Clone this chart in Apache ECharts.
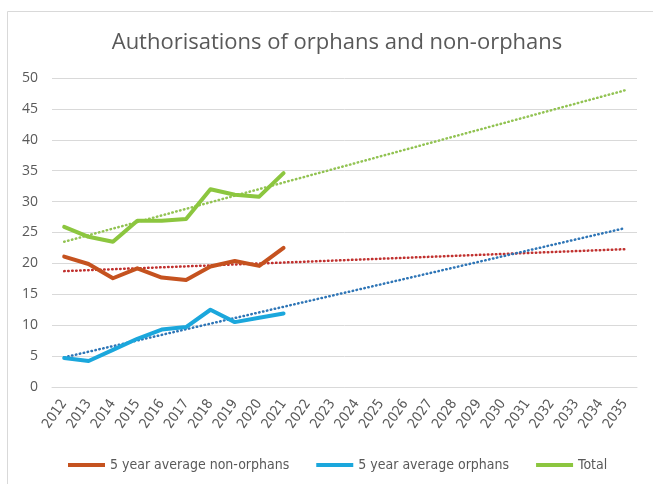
<!DOCTYPE html>
<html><head><meta charset="utf-8">
<script src="https://cdn.jsdelivr.net/npm/echarts@6/dist/echarts.min.js"></script>
<style>html,body{margin:0;padding:0;background:#fff}#c{width:653px;height:484px}</style>
</head><body><div id="c"></div>
<script>
const years = ['2012','2013','2014','2015','2016','2017','2018','2019','2020','2021','2022','2023','2024','2025','2026','2027','2028','2029','2030','2031','2032','2033','2034','2035'];
const nonOrphans = [21.1, 19.9, 17.6, 19.2, 17.7, 17.3, 19.5, 20.4, 19.6, 22.5];
const orphans = [4.7, 4.2, 6.0, 7.8, 9.3, 9.7, 12.5, 10.5, 11.2, 11.9];
const total = [25.9, 24.3, 23.5, 26.9, 26.9, 27.2, 32.0, 31.1, 30.8, 34.6];
// trend line end points at 2012 and 2035
const trendNonOrphans = [18.75, 22.3];
const trendOrphans = [4.8, 25.7];
const trendTotal = [23.5, 48.0];
const yTicks = [0, 50, 5];

const chart = echarts.init(document.getElementById('c'), null, {renderer: 'canvas'});
const narrow = '"Liberation Sans Narrow", "Arial Narrow", "DejaVu Sans Condensed", sans-serif';
function trend(name, ends, color) {
  return {
    name: name, type: 'line', showSymbol: false, symbol: 'none', silent: true,
    data: [[years[0], ends[0]], [years[years.length - 1], ends[1]]],
    lineStyle: {color: color, width: 2.5, type: [0.5, 3.5], cap: 'round'},
    z: 1
  };
}
function main(name, data, color) {
  return {
    name: name, type: 'line', symbol: 'none', data: data,
    lineStyle: {color: color, width: 4, join: 'round', cap: 'round'},
    itemStyle: {color: color}, z: 3
  };
}
chart.setOption({
  animation: false,
  backgroundColor: '#fff',
  title: {
    text: 'Authorisations of orphans and non-orphans',
    left: 332, textAlign: 'center', top: 27,
    textStyle: {fontFamily: '"Open Sans", sans-serif', fontSize: 22, fontWeight: 'normal', color: '#595959'}
  },
  graphic: [{
    type: 'rect', shape: {x: 7.5, y: 11.5, width: 700, height: 600},
    style: {fill: 'none', stroke: '#d9d9d9', lineWidth: 1}, silent: true, z: -1
  }],
  legend: {
    left: 63, top: 453,
    itemWidth: 37, itemHeight: 4, itemGap: 27,
    icon: 'rect',
    data: ['5 year average non-orphans', '5 year average orphans', 'Total'],
    textStyle: {fontFamily: narrow, fontSize: 14, color: '#595959'}
  },
  grid: {left: 52, right: 16, top: 78, bottom: 97, containLabel: false},
  xAxis: {
    type: 'category', data: years, boundaryGap: true,
    axisLine: {show: true, lineStyle: {color: '#d9d9d9', width: 1}},
    axisTick: {show: false},
    axisLabel: {rotate: 55, interval: 0, margin: 14, fontFamily: narrow, fontSize: 14, color: '#595959'}
  },
  yAxis: {
    type: 'value', min: yTicks[0], max: yTicks[1], interval: yTicks[2],
    axisLine: {show: false}, axisTick: {show: false},
    splitLine: {lineStyle: {color: '#d9d9d9', width: 1}},
    axisLabel: {margin: 14, fontFamily: '"Open Sans", sans-serif', fontSize: 14, color: '#595959'}
  },
  series: [
    trend('trend1', trendTotal, '#92c353'),
    trend('trend2', trendNonOrphans, '#c0302e'),
    trend('trend3', trendOrphans, '#2e75b6'),
    main('5 year average non-orphans', nonOrphans, '#c5521f'),
    main('5 year average orphans', orphans, '#1ba7dc'),
    main('Total', total, '#8cc63f')
  ]
});
</script></body></html>
